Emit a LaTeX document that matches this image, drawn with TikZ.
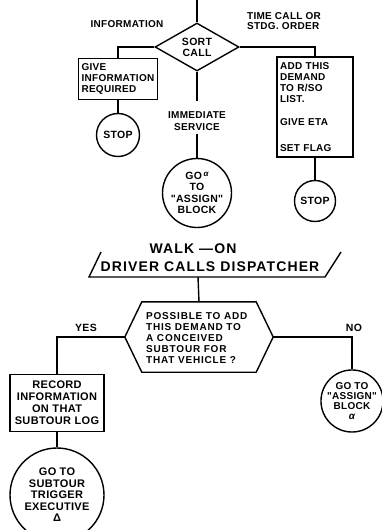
\documentclass[tikz,border=0pt]{standalone}
\usepackage{fontspec}
\newfontfamily\lf[LetterSpace=3]{Liberation Sans}
\newfontfamily\lfw[LetterSpace=8]{Liberation Sans}
\usetikzlibrary{shapes.geometric}
\tikzset{
  conn/.style={line width=1.4pt},
  txt/.style={inner sep=0pt, font=\lf\bfseries\fontsize{10}{10.8}\selectfont},
  bigtxt/.style={inner sep=0pt, font=\lfw\bfseries\fontsize{14}{15}\selectfont},
  box/.style={draw, line width=1.4pt, inner xsep=3pt, inner ysep=2pt, align=left},
  circ/.style={draw, circle, line width=1.4pt, inner sep=0pt, align=center},
  diam/.style={draw, diamond, line width=1.4pt, inner sep=0pt, align=center, aspect=1.75},
}
\begin{document}
\begin{tikzpicture}[x=1pt,y=-1pt]
\useasboundingbox (0,0) rectangle (381,530);
% ---- upper part
\coordinate (topin) at (197,0);
\node[diam, txt, minimum width=84pt, minimum height=48pt, font=\lf\bfseries\fontsize{10.5}{11}\selectfont] (sort) at (197,47) {SORT\\CALL};
\draw[conn] (topin) -- (sort.north);
\node[txt] (info) at (127,24) {INFORMATION};
\node[txt, align=left] (time) at (284,21) {TIME CALL OR\\STDG. ORDER};

\node[box, txt, inner xsep=3pt, text width=73pt, minimum height=41pt] (give) at (118,79) {GIVE\\INFORMATION\\REQUIRED};
\node[circ, txt, minimum size=43pt, font=\lf\bfseries\fontsize{10.5}{11}\selectfont] (stop1) at (118,135) {STOP};
\draw[conn] (sort.west) -| (give.north);
\draw[conn] (give) -- (stop1);

\node[txt, align=center, font=\lf\bfseries\fontsize{10}{12.5}\selectfont] (imm) at (197,121) {IMMEDIATE\\SERVICE};
\node[circ, txt, minimum size=69pt, font=\lf\bfseries\fontsize{10.5}{11.5}\selectfont] (goa) at (197,193) {GO\,\raisebox{2.5pt}{\fontsize{8}{8}\selectfont\itshape α}\\TO\\"ASSIGN"\\BLOCK};
\draw[conn, shorten >=10pt] (sort.south) -- (imm.north);
\draw[conn, shorten <=3pt] (imm.south) -- (goa.north);

\node[box, txt, inner xsep=3pt, text width=70pt, minimum height=100pt, font=\lf\bfseries\fontsize{10}{11}\selectfont] (add) at (315,107) {ADD THIS\\DEMAND\\TO R/SO\\LIST.\\[12pt]GIVE ETA\\[15pt]SET FLAG};
\node[circ, txt, minimum size=41pt, font=\lf\bfseries\fontsize{10.5}{11}\selectfont] (stop2) at (315,201) {STOP};
\draw[conn] (sort.east) -| (add.north);
\draw[conn] (add) -- (stop2);

% ---- walk-on part
\node[bigtxt] (walk) at (193,249) {WALK —ON};
\node[bigtxt] (driver) at (210,267) {DRIVER CALLS DISPATCHER};
\coordinate (ptl) at (101,252);
\coordinate (pbl) at (89,277);
\coordinate (pbr) at (325,277);
\coordinate (ptr) at (341,252);
\coordinate (pbot) at (198,277);
\draw[conn] (ptl) -- (pbl) -- (pbr) -- (ptr);

\node[minimum width=148pt, minimum height=70pt, inner sep=0pt] (poss) at (199,337) {};
\draw[conn] (poss.west) -- ([xshift=17pt]poss.north west) -- ([xshift=-17pt]poss.north east) -- (poss.east) -- ([xshift=-17pt]poss.south east) -- ([xshift=17pt]poss.south west) -- cycle;
\node[txt, align=left, anchor=west, font=\lfw\bfseries\fontsize{10}{11.2}\selectfont] (posst) at (146,338) {POSSIBLE TO ADD\\THIS DEMAND TO\\A CONCEIVED\\SUBTOUR FOR\\THAT VEHICLE ?};
\draw[conn] (pbot) -- (poss.north);

\node[txt, font=\lf\bfseries\fontsize{10.5}{11}\selectfont] (yes) at (86,328) {YES};
\node[txt, font=\lf\bfseries\fontsize{10.5}{11}\selectfont] (no) at (354,328) {NO};

\node[box, txt, align=center, text width=94pt, minimum height=57pt, font=\lf\bfseries\fontsize{11}{12}\selectfont] (record) at (57,403) {RECORD\\INFORMATION\\ON THAT\\SUBTOUR LOG};
\node[circ, txt, minimum size=94pt, font=\lf\bfseries\fontsize{11}{11.5}\selectfont] (gost) at (57,495) {GO TO\\SUBTOUR\\TRIGGER\\EXECUTIVE\\Δ};
\draw[conn] (poss.west) -| (record.north);
\draw[conn] (record) -- (gost);

\node[circ, txt, minimum size=58pt, font=\lf\bfseries\fontsize{10}{10}\selectfont] (goass) at (352,401) {GO TO\\"ASSIGN"\\BLOCK\\{\itshape α}};
\draw[conn] (poss.east) -| (goass.north);
\end{tikzpicture}
\end{document}
